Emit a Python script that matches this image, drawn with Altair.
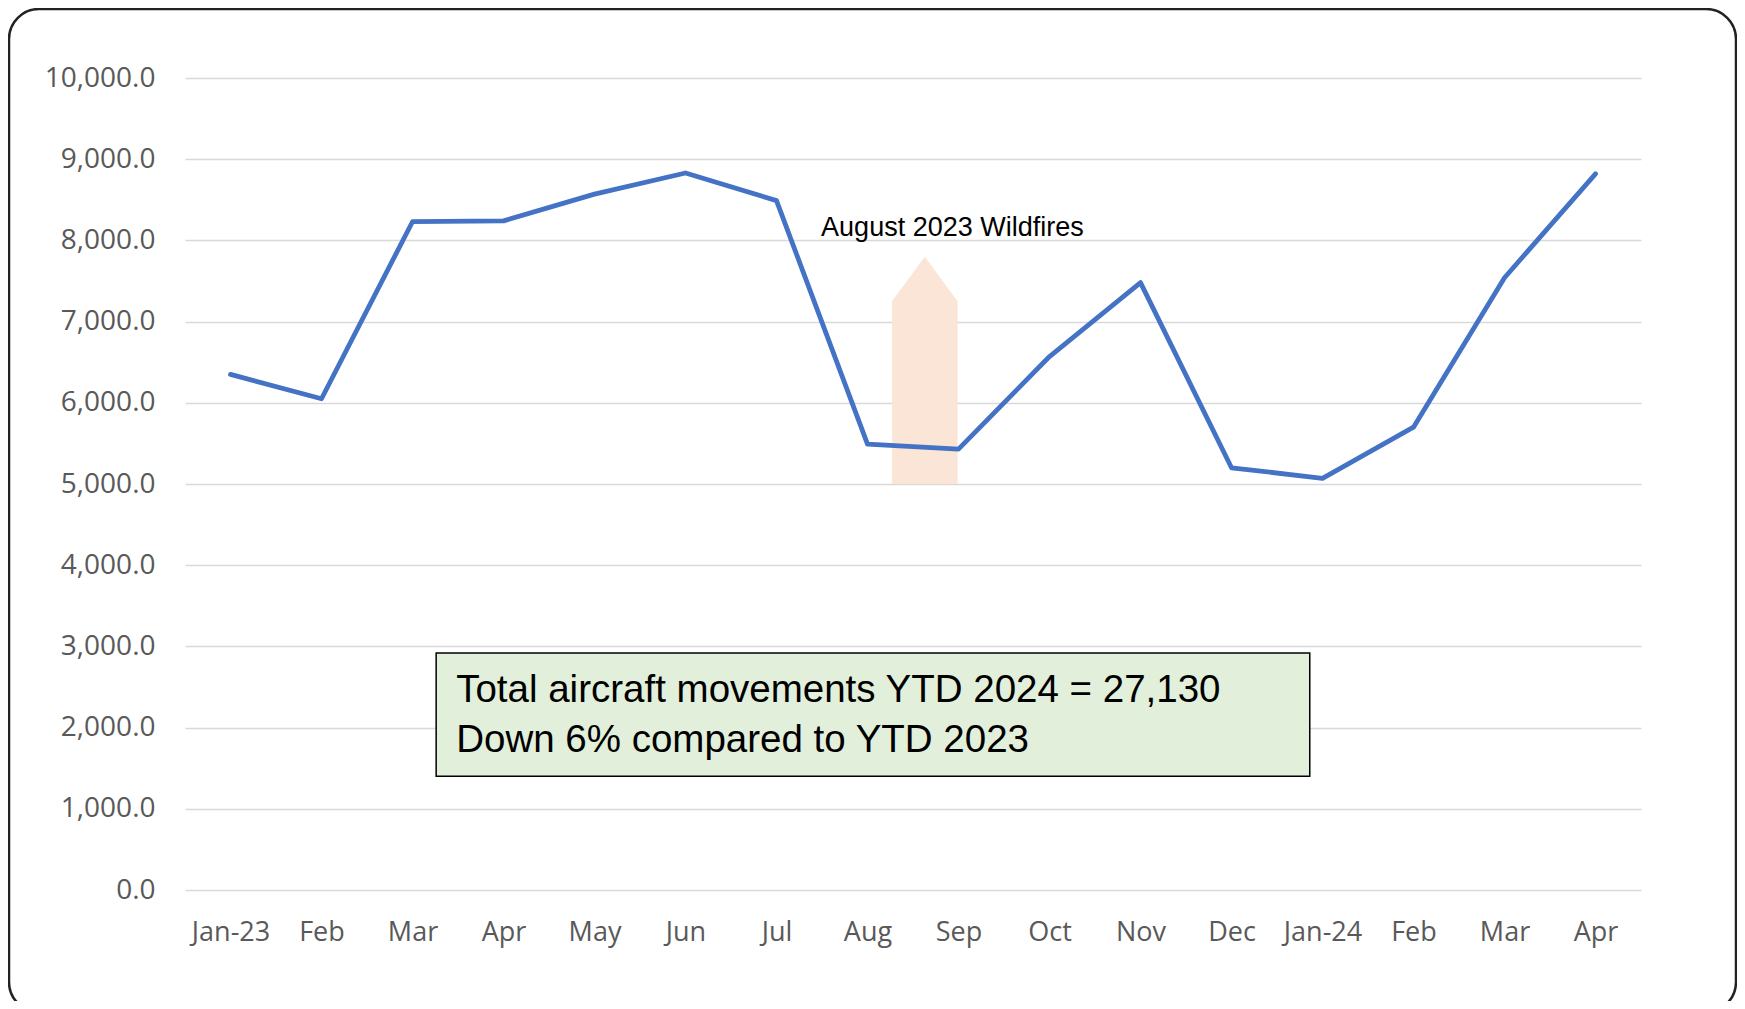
import json
import altair as alt
import pandas as pd

# ---- data ----
months = ["Jan-23", "Feb", "Mar", "Apr", "May", "Jun", "Jul", "Aug",
          "Sep", "Oct", "Nov", "Dec", "Jan-24", "Feb", "Mar", "Apr"]
movements = [6350, 6050, 8230, 8240, 8570, 8830, 8490, 5490,
             5430, 6570, 7480, 5200, 5070, 5700, 7540, 8820]
positions = [i + 0.5 for i in range(len(months))]

# wildfire arrow outline (category-position units / movements)
arrow_x = [7.77, 8.13, 8.49]
arrow_top = [7250, 7800, 7250]
arrow_base = [5000, 5000, 5000]

annot_text = ["August 2023 Wildfires"]
annot_x = [6.99]
annot_y = [8150]

box_x = [2.76]
box_x2 = [12.36]
box_y = [2920]
box_y2 = [1400]
box_lines = ["Total aircraft movements YTD 2024 = 27,130",
             "Down 6% compared to YTD 2023"]
box_text_x = [2.98, 2.98]
box_text_y = [2460, 1850]

# ---- tables ----
line_df = pd.DataFrame({"pos": positions, "month": months, "value": movements})
arrow_df = pd.DataFrame({"x": arrow_x, "top": arrow_top, "base": arrow_base})
annot_df = pd.DataFrame({"x": annot_x, "y": annot_y, "t": annot_text})
box_df = pd.DataFrame({"x": box_x, "x2": box_x2, "y": box_y, "y2": box_y2})
boxtext_df = pd.DataFrame({"x": box_text_x, "y": box_text_y, "t": box_lines})
border_df = pd.DataFrame({"a": [0]})

label_expr = "%s[floor(datum.value)]" % json.dumps(months)

AXIS_FONT = "Open Sans"
LABEL_COLOR = "#595959"

xscale = alt.Scale(domain=[0, 16], nice=False, zero=False)
yscale = alt.Scale(domain=[0, 10000], nice=False)

xaxis = alt.Axis(values=positions, labelExpr=label_expr, grid=False,
                 domain=False, ticks=False, tickSize=0, labelPadding=29,
                 labelFont=AXIS_FONT, labelFontSize=27, labelColor=LABEL_COLOR,
                 title=None, labelFlush=False, labelOverlap=False)
yaxis = alt.Axis(values=list(range(0, 10001, 1000)), format=",.1f", grid=True,
                 gridColor="#D9D9D9", gridWidth=1.5, domain=False, ticks=False,
                 tickSize=0, labelPadding=30, labelFont=AXIS_FONT,
                 labelFontSize=28, labelColor=LABEL_COLOR, title=None)


def X(field):
    return alt.X(field, type="quantitative", scale=xscale, axis=xaxis)


def Y(field):
    return alt.Y(field, type="quantitative", scale=yscale, axis=yaxis)


border = alt.Chart(border_df).mark_rect(
    fill="white", fillOpacity=0, stroke="#222222", strokeWidth=2.5,
    cornerRadius=30
).encode(x=alt.value(-176), x2=alt.value(1551),
         y=alt.value(-69), y2=alt.value(934))

arrow = alt.Chart(arrow_df).mark_area(color="#FBE5D6", opacity=1,
                                      orient="vertical").encode(
    x=X("x"), y=Y("top"), y2="base"
)

line = alt.Chart(line_df).mark_line(color="#4472C4", strokeWidth=4.8,
                                    strokeCap="round", strokeJoin="round").encode(
    x=X("pos"), y=Y("value")
)

annot = alt.Chart(annot_df).mark_text(
    align="left", baseline="middle", font="Liberation Sans", fontSize=27,
    color="black"
).encode(x=X("x"), y=Y("y"), text="t")

box = alt.Chart(box_df).mark_rect(fill="#E2EFDA", stroke="black",
                                  strokeWidth=1.5).encode(
    x=X("x"), x2="x2", y=Y("y"), y2="y2"
)

boxtext = alt.Chart(boxtext_df).mark_text(
    align="left", baseline="middle", font="Liberation Sans", fontSize=38.5,
    color="black"
).encode(x=X("x"), y=Y("y"), text="t")

chart = alt.layer(border, arrow, line, annot, box, boxtext).properties(
    width=1456, height=812,
    padding={"left": 177, "top": 70, "right": 96, "bottom": 111},
    autosize=alt.AutoSizeParams(type="none"),
    background="white",
).configure_view(stroke=None)

chart.save("out.html", embed_options={"renderer": "svg", "actions": False})
